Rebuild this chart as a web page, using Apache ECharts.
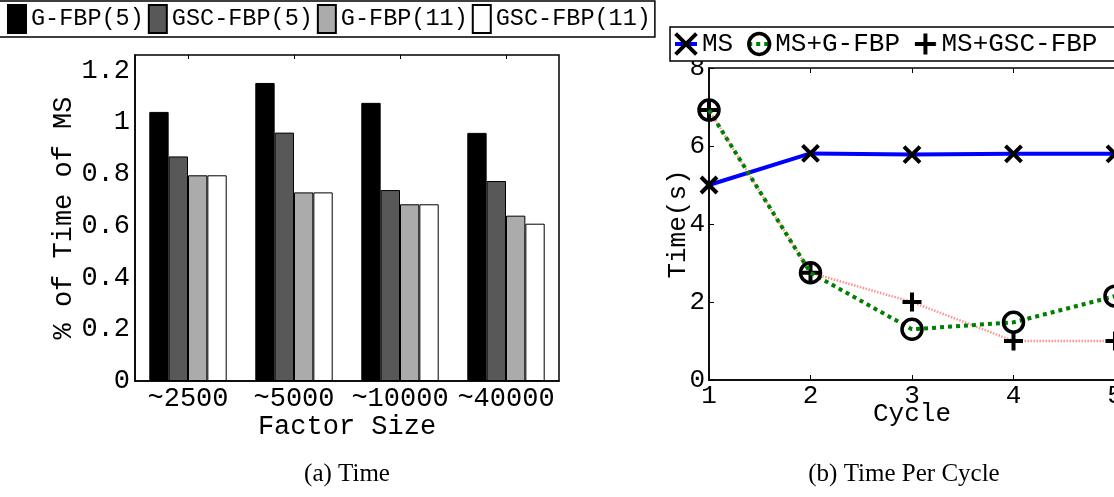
<!DOCTYPE html>
<html><head><meta charset="utf-8">
<script src="https://cdn.jsdelivr.net/npm/echarts@6/dist/echarts.min.js"></script>
<style>html,body{margin:0;padding:0;background:#fff}#c{width:1114px;height:497px}</style>
</head><body><div id="c"></div>
<script>
// ---- data ----
const factorSizes = ['~2500', '~5000', '~10000', '~40000'];
const gfbp5    = [1.040, 1.152, 1.075, 0.959];
const gscfbp5  = [0.868, 0.960, 0.738, 0.773];
const gfbp11   = [0.795, 0.729, 0.683, 0.639];
const gscfbp11 = [0.795, 0.729, 0.683, 0.608];
const barTickLabels = [0, 0.2, 0.4, 0.6, 0.8, 1, 1.2];

const cycles    = [1, 2, 3, 4, 5];
const ms        = [5.0, 5.81, 5.78, 5.80, 5.80];
const msGfbp    = [6.92, 2.75, 1.30, 1.48, 2.15];
const msGscfbp  = [6.92, 2.75, 2.00, 1.00, 1.00];

// ---- styles ----
const MONO = '"Liberation Mono", "DejaVu Sans Mono", monospace';
const SERIF = '"Liberation Serif", "DejaVu Serif", serif';
const X_PATH = 'path://M0,0L10,10M10,0L0,10';
const PLUS_PATH = 'path://M5,0L5,10M0,5L10,5';
const HOLLOW = 'rgba(0,0,0,0)';

function pairs(xs, ys) { return xs.map((x, i) => [x, ys[i]]); }

const chart = echarts.init(document.getElementById('c'), null, {renderer: 'canvas'});
const barSeries = (name, data, color) => ({
  name, type: 'bar', data, xAxisIndex: 0, yAxisIndex: 0,
  barGap: '0%', barCategoryGap: '27%',
  itemStyle: {color, borderColor: '#000', borderWidth: 1},
  emphasis: {disabled: true}
});

const lineStyles = {
  'MS': {color: '#0000ff', width: 4},
  'MS+G-FBP': {color: '#007f00', width: 4, type: [4, 4]},
  'MS+GSC-FBP': {color: '#ff9090', width: 2.5, type: [1.5, 1.5]}
};
const markerStyles = {
  'MS': {color: HOLLOW, borderColor: '#000', borderWidth: 4},
  'MS+G-FBP': {color: HOLLOW, borderColor: '#000', borderWidth: 3.5},
  'MS+GSC-FBP': {color: HOLLOW, borderColor: '#000', borderWidth: 4}
};

const option = {
  animation: false,
  backgroundColor: '#fff',
  grid: [
    {left: 135, top: 55, width: 424, height: 326, show: true, borderColor: '#000', borderWidth: 1.5, backgroundColor: '#fff', containLabel: false, outerBoundsMode: 'none'},
    {left: 709, top: 68, width: 406, height: 312, show: true, borderColor: '#000', borderWidth: 1.5, backgroundColor: '#fff', containLabel: false, outerBoundsMode: 'none'}
  ],
  legend: [
    {
      left: -3, top: 1, orient: 'horizontal', icon: 'rect',
      data: ['G-FBP(5)', 'GSC-FBP(5)', 'G-FBP(11)', 'GSC-FBP(11)'],
      itemWidth: 18, itemHeight: 28, itemGap: 4,
      padding: [3, 4, 3, 10],
      borderColor: '#000', borderWidth: 1.5, backgroundColor: '#fff',
      textStyle: {fontFamily: MONO, fontSize: 23.5, color: '#000'},
      z: 20
    },
    {
      left: 670, top: 27, orient: 'horizontal', width: 520,
      data: ['MS', 'MS+G-FBP', 'MS+GSC-FBP'].map(n => ({name: n, itemStyle: markerStyles[n], lineStyle: lineStyles[n]})),
      itemWidth: 22, itemHeight: 26, itemGap: 13,
      padding: [4, 60, 4, 3],
      borderColor: '#000', borderWidth: 1.5, backgroundColor: '#fff',
      textStyle: {fontFamily: MONO, fontSize: 26, color: '#000'},
      z: 20
    }
  ],
  xAxis: [
    {
      type: 'category', gridIndex: 0, data: factorSizes,
      name: 'Factor Size', nameLocation: 'middle', nameGap: 32, nameMoveOverlap: false,
      nameTextStyle: {fontFamily: MONO, fontSize: 27, color: '#000'},
      axisLine: {lineStyle: {color: '#000', width: 1.5}},
      axisTick: {show: true, inside: true, length: 4, alignWithLabel: true, lineStyle: {color: '#000'}},
      axisLabel: {fontFamily: MONO, fontSize: 27, color: '#000', margin: 4, interval: 0},
      splitLine: {show: false}
    },
    {
      type: 'category', gridIndex: 0, data: factorSizes, position: 'top',
      axisLine: {show: false},
      axisTick: {show: true, inside: true, length: 4, alignWithLabel: true, lineStyle: {color: '#000'}},
      axisLabel: {show: false}, splitLine: {show: false}
    },
    {
      type: 'value', gridIndex: 1, min: 1, max: 5, interval: 1,
      name: 'Cycle', nameLocation: 'middle', nameGap: 21, nameMoveOverlap: false,
      nameTextStyle: {fontFamily: MONO, fontSize: 26, color: '#000'},
      axisLine: {lineStyle: {color: '#000', width: 1.5}},
      axisTick: {show: true, inside: true, length: 5, lineStyle: {color: '#000'}},
      axisLabel: {fontFamily: MONO, fontSize: 26, color: '#000', margin: 3, showMaxLabel: true},
      splitLine: {show: false}
    },
    {
      type: 'value', gridIndex: 1, min: 1, max: 5, interval: 1, position: 'top',
      axisLine: {show: false},
      axisTick: {show: true, inside: true, length: 5, lineStyle: {color: '#000'}},
      axisLabel: {show: false}, splitLine: {show: false}
    }
  ],
  yAxis: [
    {
      type: 'value', gridIndex: 0, min: 0, max: 1.26, interval: 0.2,
      name: '% of Time of MS', nameLocation: 'middle', nameGap: 58, nameRotate: 90, nameMoveOverlap: false,
      nameTextStyle: {fontFamily: MONO, fontSize: 27, color: '#000'},
      axisLine: {show: true, lineStyle: {color: '#000', width: 1.5}},
      axisTick: {show: false},
      axisLabel: {
        fontFamily: MONO, fontSize: 27, color: '#000', margin: 5,
        formatter: v => {
          const r = Math.round(v * 100) / 100;
          return barTickLabels.includes(r) ? String(r) : '';
        }
      },
      splitLine: {show: false}
    },
    {
      type: 'value', gridIndex: 1, min: 0, max: 8, interval: 2,
      name: 'Time(s)', nameLocation: 'middle', nameGap: 18, nameRotate: 90, nameMoveOverlap: false,
      nameTextStyle: {fontFamily: MONO, fontSize: 26, color: '#000'},
      axisLine: {show: true, lineStyle: {color: '#000', width: 1.5}},
      axisTick: {show: true, inside: true, length: 5, lineStyle: {color: '#000'}},
      axisLabel: {fontFamily: MONO, fontSize: 26, color: '#000', margin: 4},
      splitLine: {show: false}
    }
  ],
  series: [
    barSeries('G-FBP(5)', gfbp5, '#000000'),
    barSeries('GSC-FBP(5)', gscfbp5, '#585858'),
    barSeries('G-FBP(11)', gfbp11, '#ababab'),
    barSeries('GSC-FBP(11)', gscfbp11, '#ffffff'),
    {
      name: 'MS', type: 'line', xAxisIndex: 2, yAxisIndex: 1,
      data: pairs(cycles, ms),
      symbol: X_PATH, symbolSize: 16, showAllSymbol: true,
      lineStyle: lineStyles['MS'], itemStyle: markerStyles['MS'],
      emphasis: {disabled: true}, z: 3
    },
    {
      name: 'MS+G-FBP', type: 'line', xAxisIndex: 2, yAxisIndex: 1,
      data: pairs(cycles, msGfbp),
      symbol: 'circle', symbolSize: 20, showAllSymbol: true,
      lineStyle: lineStyles['MS+G-FBP'], itemStyle: markerStyles['MS+G-FBP'],
      emphasis: {disabled: true}, z: 4
    },
    {
      name: 'MS+GSC-FBP', type: 'line', xAxisIndex: 2, yAxisIndex: 1,
      data: pairs(cycles, msGscfbp),
      symbol: PLUS_PATH, symbolSize: 19, showAllSymbol: true,
      lineStyle: lineStyles['MS+GSC-FBP'], itemStyle: markerStyles['MS+GSC-FBP'],
      emphasis: {disabled: true}, z: 2
    }
  ],
  graphic: [
    {type: 'text', x: 347, y: 474, z: 30, style: {text: '(a) Time', font: '25px ' + SERIF, fill: '#000', align: 'center', verticalAlign: 'middle'}},
    {type: 'text', x: 904, y: 474, z: 30, style: {text: '(b) Time Per Cycle', font: '25px ' + SERIF, fill: '#000', align: 'center', verticalAlign: 'middle'}}
  ]
};
chart.setOption(option);
</script>
</body></html>
